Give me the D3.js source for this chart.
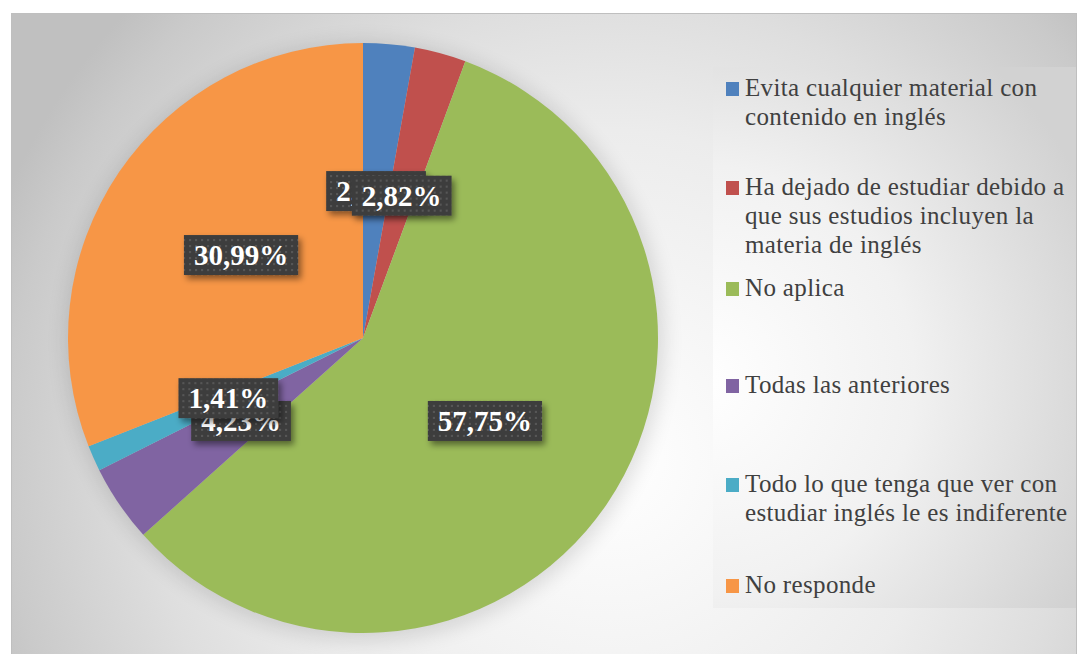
<!DOCTYPE html>
<html>
<head>
<meta charset="utf-8">
<script src="https://cdn.jsdelivr.net/npm/d3@7"></script>
<style>
  body { margin: 0; background: #fff; }
  svg { display: block; }
</style>
</head>
<body>
<script>
  var width = 1078,
      height = 654;

  // data
  var categories = [
    "Evita cualquier material con\ncontenido en inglés",
    "Ha dejado de estudiar debido a\nque sus estudios incluyen la\nmateria de inglés",
    "No aplica",
    "Todas las anteriores",
    "Todo lo que tenga que ver con\nestudiar inglés le es indiferente",
    "No responde"
  ];
  var values = [2.82, 2.82, 57.75, 4.23, 1.41, 30.99];
  var colors = ["#4f81bd", "#c0504d", "#9bbb59", "#8064a2", "#4bacc6", "#f79646"];

  // legend layout (centre of first line of each entry)
  var legendLineY = [89, 188, 289, 386, 485, 586];

  var cx = 363, cy = 338, radius = 295;

  var svg = d3.select("body").append("svg")
      .attr("width", width)
      .attr("height", height);

  var defs = svg.append("defs");

  var bg = defs.append("radialGradient").attr("id", "bg")
      .attr("gradientUnits", "userSpaceOnUse")
      .attr("cx", 610).attr("cy", 460).attr("r", 660);
  bg.append("stop").attr("offset", 0).attr("stop-color", "#ffffff");
  bg.append("stop").attr("offset", 0.5).attr("stop-color", "#ececec");
  bg.append("stop").attr("offset", 0.7).attr("stop-color", "#dedede");
  bg.append("stop").attr("offset", 0.92).attr("stop-color", "#cacaca");
  bg.append("stop").attr("offset", 1).attr("stop-color", "#c0c0c0");

  var lg = defs.append("radialGradient").attr("id", "lg")
      .attr("gradientUnits", "userSpaceOnUse")
      .attr("cx", 700).attr("cy", 380).attr("r", 430);
  lg.append("stop").attr("offset", 0).attr("stop-color", "#ffffff");
  lg.append("stop").attr("offset", 0.5).attr("stop-color", "#f1f1f1");
  lg.append("stop").attr("offset", 1).attr("stop-color", "#d2d2d2");

  var pat = defs.append("pattern").attr("id", "dots")
      .attr("patternUnits", "userSpaceOnUse")
      .attr("width", 6).attr("height", 6);
  pat.append("rect").attr("width", 6).attr("height", 6).attr("fill", "#3e3e3e");
  pat.append("rect").attr("x", 2).attr("y", 2).attr("width", 2).attr("height", 2).attr("fill", "#575757");

  var halo = defs.append("filter").attr("id", "halo")
      .attr("x", "-20%").attr("y", "-20%").attr("width", "140%").attr("height", "140%");
  halo.append("feGaussianBlur").attr("stdDeviation", 10);

  var shadow = defs.append("filter").attr("id", "shadow")
      .attr("x", "-20%").attr("y", "-30%").attr("width", "150%").attr("height", "180%");
  shadow.append("feDropShadow")
      .attr("dx", 3).attr("dy", 4).attr("stdDeviation", 3)
      .attr("flood-color", "#000").attr("flood-opacity", 0.45);

  // chart area
  svg.append("rect")
      .attr("x", 11.5).attr("y", 13.5)
      .attr("width", 1065).attr("height", 650)
      .attr("fill", "url(#bg)")
      .attr("stroke", "#bfbfbf");

  // soft halo behind pie
  svg.append("circle")
      .attr("cx", cx + 2).attr("cy", cy + 3).attr("r", radius + 4)
      .attr("fill", "#000").attr("opacity", 0.12)
      .attr("filter", "url(#halo)");

  var pie = d3.pie().sort(null).value(function(d) { return d; });
  var arc = d3.arc().innerRadius(0).outerRadius(radius);
  var labelArc = d3.arc().innerRadius(0).outerRadius(radius);

  var arcs = pie(values);

  var g = svg.append("g").attr("transform", "translate(" + cx + "," + cy + ")");

  g.selectAll("path.slice")
    .data(arcs)
    .enter().append("path")
      .attr("class", "slice")
      .attr("d", arc)
      .attr("fill", function(d, i) { return colors[i]; });

  // data labels
  var fmt = function(v) { return v.toFixed(2).replace(".", ",") + "%"; };

  var lab = g.selectAll("g.lab")
    .data(arcs)
    .enter().append("g")
      .attr("class", "lab")
      .attr("transform", function(d) { return "translate(" + labelArc.centroid(d) + ")"; });

  lab.each(function(d) {
    var sel = d3.select(this);
    var box = sel.append("rect").attr("fill", "url(#dots)").attr("filter", "url(#shadow)");
    var t = sel.append("text")
        .attr("text-anchor", "middle")
        .attr("dy", "0.35em")
        .attr("fill", "#fff")
        .style("font-family", "'Liberation Serif', serif")
        .style("font-weight", "bold")
        .style("font-size", "29px")
        .text(fmt(d.data));
    var w = t.node().getComputedTextLength() + 20;
    box.attr("x", -w / 2).attr("y", -20).attr("width", w).attr("height", 40);
  });

  // legend
  svg.append("rect")
      .attr("x", 713).attr("y", 67)
      .attr("width", 363).attr("height", 541)
      .attr("fill", "url(#lg)");

  var leg = svg.selectAll("g.leg")
    .data(categories)
    .enter().append("g")
      .attr("class", "leg")
      .attr("transform", function(d, i) { return "translate(726," + legendLineY[i] + ")"; });

  leg.append("rect")
      .attr("x", 0).attr("y", -7)
      .attr("width", 13).attr("height", 14)
      .attr("fill", function(d, i) { return colors[i]; });

  leg.append("text")
      .attr("fill", "#404040")
      .style("font-family", "'Liberation Serif', serif")
      .style("font-size", "25px")
      .style("letter-spacing", "0.35px")
      .selectAll("tspan")
      .data(function(d) { return d.split("\n"); })
      .enter().append("tspan")
        .attr("x", 19)
        .attr("y", function(d, j) { return 7 + j * 29; })
        .text(function(d) { return d; });
</script>
</body>
</html>
